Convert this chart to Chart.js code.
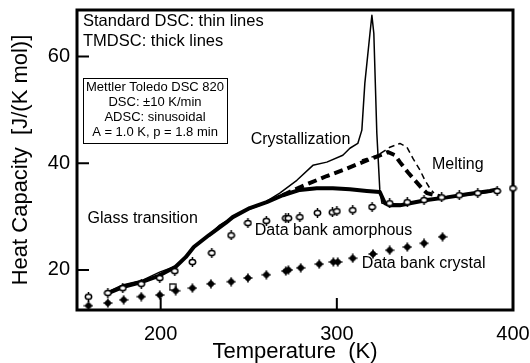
<!DOCTYPE html>
<html><head><meta charset="utf-8">
<script src="https://cdn.jsdelivr.net/npm/chart.js@4/dist/chart.umd.min.js"></script>
<style>html,body{margin:0;padding:0;background:#fff}</style>
</head><body>
<canvas id="c" width="530" height="363"></canvas>
<script>
// Heat capacity of an amorphous polymer: standard DSC vs. TMDSC, with data-bank references
const xTicks = [200, 300, 400];
const yTicks = [20, 40, 60];

const crystalT  = [159,170,179,189,199.5,208.5,218,228.5,240,249.5,260,271,272.5,279.5,290,298,300.5,309,320.5,330,340,349.5,360];
const crystalCp = [13.3,13.8,14.4,15.0,15.3,16.1,16.6,17.4,17.8,18.5,19.1,19.8,20.0,20.4,21.1,21.5,21.5,22.2,23.0,23.7,24.3,25.0,26.2];

const amorphT  = [159,170,178.5,189,199.5,208,218,229,240,249.5,260,271,272.5,279,289,297.5,300,309,320,330,340,349.5,359.5,369.5,380,391,400];
const amorphCp = [15.0,15.7,16.6,17.4,18.5,19.8,21.5,23.2,26.5,28.8,29.2,29.7,29.7,29.9,30.7,30.8,31.0,31.2,31.8,32.5,32.7,33.1,33.6,34.0,34.4,34.8,35.3];

// standard DSC (thin solid)
const dscT  = [169.9,178.4,189.8,199.4,208.5,214.2,218.8,227.3,233.5,244.9,256.3,267.6,277.3,286.4,294.3,303.4,307.4,311.9,314.2,315.9,318.8,319.9,321.0,322.7,324.4,325.6,337.5,348.9,362.5,373.9,386.9,390.9];
const dscCp = [15.9,17.2,18.1,19.6,20.7,22.4,24.3,26.5,28.4,30.7,32.1,34.4,36.8,39.6,40.2,41.5,42.8,43.7,46.2,55.0,64.3,67.7,64.3,45.6,35.0,32.5,32.3,33.1,33.6,34.0,34.6,35.0];

// TMDSC reversing (thick solid)
const revT  = [170.5,178.4,189.8,198.9,208.5,214.2,218.8,227.3,236.9,240.9,250.6,260.2,269.3,279.0,288.6,297.7,307.4,317.0,324.4,327.3,330.1,335.8,341.5,351.1,362.5,373.9,386.9,390.9];
const revCp = [15.7,16.8,17.8,18.9,20.6,22.4,24.3,26.5,28.8,29.9,31.6,32.7,34.0,35.0,35.3,35.3,35.1,34.8,34.6,32.5,32.1,32.1,32.5,33.1,33.6,34.2,34.8,35.1];

// TMDSC total (thick dashed)
const totT  = [269.3,279.0,294.3,303.4,313.1,321.6,329.0,333.0,335.8,340.3,344.3,348.3,351.1,358.5];
const totCp = [34.0,35.5,37.6,38.7,40.0,41.1,42.1,41.5,40.2,38.3,36.8,35.3,34.4,33.8];

// standard DSC melting (thin dashed)
const meltT  = [314.2,323.3,330.1,335.8,339.8,343.2,347.2,350.0,352.8,355.1];
const meltCp = [40.6,41.5,43.0,43.7,43.0,40.9,38.7,36.8,35.3,34.4];

const extraT = [206.8];
const extraCp = [16.8];

const pts = (xs, ys) => xs.map((x, i) => ({x, y: ys[i]}));

function marker(draw, w, h) {
  const c = document.createElement('canvas');
  c.width = w; c.height = h;
  draw(c.getContext('2d'), w / 2, h / 2);
  return c;
}
const crystalMark = marker((g, cx, cy) => {
  g.fillStyle = '#000'; g.strokeStyle = '#000'; g.lineWidth = 1.6;
  g.beginPath(); g.arc(cx, cy, 3, 0, Math.PI * 2); g.fill();
  g.beginPath(); g.moveTo(cx, 0.5); g.lineTo(cx, 2 * cy - 0.5);
  g.moveTo(0.5, cy); g.lineTo(2 * cx - 0.5, cy); g.stroke();
}, 10, 10);
const amorphMark = marker((g, cx, cy) => {
  g.strokeStyle = '#000'; g.fillStyle = '#fff'; g.lineWidth = 1.5;
  g.beginPath(); g.moveTo(cx, 0); g.lineTo(cx, 2 * cy); g.stroke();
  g.beginPath(); g.ellipse(cx, cy, 3.2, 2.6, 0, 0, Math.PI * 2); g.fill(); g.stroke();
}, 9, 10);
const squareMark = marker((g, cx, cy) => {
  g.strokeStyle = '#000'; g.fillStyle = '#fff'; g.lineWidth = 1.3;
  g.fillRect(1, 1, 6, 6); g.strokeRect(1, 1, 6, 6);
}, 8, 8);

const FONT = "'Liberation Sans', Arial, sans-serif";

const frameAndTicks = {
  id: 'frameAndTicks',
  beforeDatasetsDraw(chart) {
    const {ctx, chartArea: a, scales: {x, y}} = chart;
    ctx.save();
    ctx.strokeStyle = '#000';
    ctx.lineWidth = 2;
    ctx.beginPath();
    xTicks.forEach(v => { const px = x.getPixelForValue(v); ctx.moveTo(px, a.bottom); ctx.lineTo(px, a.bottom - 12); });
    yTicks.forEach(v => { const py = y.getPixelForValue(v); ctx.moveTo(a.left, py); ctx.lineTo(a.left + 12, py); });
    ctx.stroke();
    ctx.lineWidth = 3;
    ctx.strokeRect(a.left, a.top, a.right - a.left, a.bottom - a.top);
    ctx.restore();
  }
};

const notes = [
  {text: 'Crystallization', T: 251.1, Cp: 44.5},
  {text: 'Melting', T: 354.0, Cp: 39.8},
  {text: 'Glass transition', T: 158.5, Cp: 29.7},
  {text: 'Data bank amorphous', T: 253.4, Cp: 27.3},
  {text: 'Data bank crystal', T: 314.2, Cp: 21.1}
];
const boxLines = ['Mettler Toledo DSC 820', 'DSC: \u00b110 K/min', 'ADSC: sinusoidal', 'A = 1.0 K, p = 1.8 min'];

const annotations = {
  id: 'annotations',
  afterDatasetsDraw(chart) {
    const {ctx, chartArea: a, scales: {x, y}} = chart;
    ctx.save();
    ctx.fillStyle = '#000';
    ctx.textBaseline = 'middle';
    ctx.textAlign = 'left';
    ctx.font = '16.5px ' + FONT;
    ctx.fillText('Standard DSC: thin lines', a.left + 6, a.top + 11);
    ctx.fillText('TMDSC: thick lines', a.left + 6, a.top + 31);

    ctx.font = '16px ' + FONT;
    notes.forEach(n => ctx.fillText(n.text, x.getPixelForValue(n.T), y.getPixelForValue(n.Cp)));

    // instrument box
    const bx = a.left + 6, by = a.top + 68, bw = 144, bh = 65;
    ctx.fillStyle = '#fff';
    ctx.fillRect(bx, by, bw, bh);
    ctx.strokeStyle = '#000';
    ctx.lineWidth = 1;
    ctx.strokeRect(bx + 0.5, by + 0.5, bw, bh);
    ctx.fillStyle = '#000';
    ctx.font = '13px ' + FONT;
    ctx.textAlign = 'center';
    boxLines.forEach((t, i) => ctx.fillText(t, bx + bw / 2, by + 9.5 + i * 15));
    ctx.restore();
  }
};

const line = (xs, ys, w, dash) => ({
  type: 'scatter', data: pts(xs, ys), showLine: true, borderColor: '#000', borderWidth: w,
  borderDash: dash || [], pointRadius: 0, tension: 0, fill: false, borderCapStyle: 'butt', borderJoinStyle: 'round'
});

new Chart(document.getElementById('c'), {
  type: 'scatter',
  data: {
    datasets: [
      {data: pts(amorphT, amorphCp), pointStyle: amorphMark, pointRadius: 5, clip: false},
      {data: pts(crystalT, crystalCp), pointStyle: crystalMark, pointRadius: 5, clip: false},
      {data: pts(extraT, extraCp), pointStyle: squareMark, pointRadius: 4},
      line(dscT, dscCp, 1.5),
      line(meltT, meltCp, 1.5, [6, 4]),
      line(totT, totCp, 4, [9, 5]),
      line(revT, revCp, 4)
    ]
  },
  options: {
    responsive: false,
    animation: false,
    devicePixelRatio: 1,
    layout: {padding: {top: 10, right: 17, left: 0, bottom: 0}},
    plugins: {legend: {display: false}, tooltip: {enabled: false}},
    scales: {
      x: {
        type: 'linear', min: 152.5, max: 400,
        afterBuildTicks: s => { s.ticks = xTicks.map(v => ({value: v})); },
        afterFit: s => { s.height = 53; s.paddingLeft = 0; s.paddingRight = 0; },
        grid: {display: false, drawTicks: false}, border: {display: false},
        ticks: {color: '#000', padding: 12, font: {family: FONT, size: 20}},
        title: {display: true, text: 'Temperature  (K)', color: '#000', font: {family: FONT, size: 22}, padding: {top: 0, bottom: -2}}
      },
      y: {
        type: 'linear', min: 12.5, max: 68.7,
        afterBuildTicks: s => { s.ticks = yTicks.map(v => ({value: v})); },
        afterFit: s => { s.width = 77; s.paddingTop = 0; s.paddingBottom = 0; },
        grid: {display: false, drawTicks: false}, border: {display: false},
        ticks: {color: '#000', padding: 7, font: {family: FONT, size: 20}},
        title: {display: true, text: 'Heat Capacity  [J/(K mol)]', color: '#000', font: {family: FONT, size: 22}, padding: {top: 8, bottom: 0}}
      }
    }
  },
  plugins: [frameAndTicks, annotations]
});
</script>
</body></html>
